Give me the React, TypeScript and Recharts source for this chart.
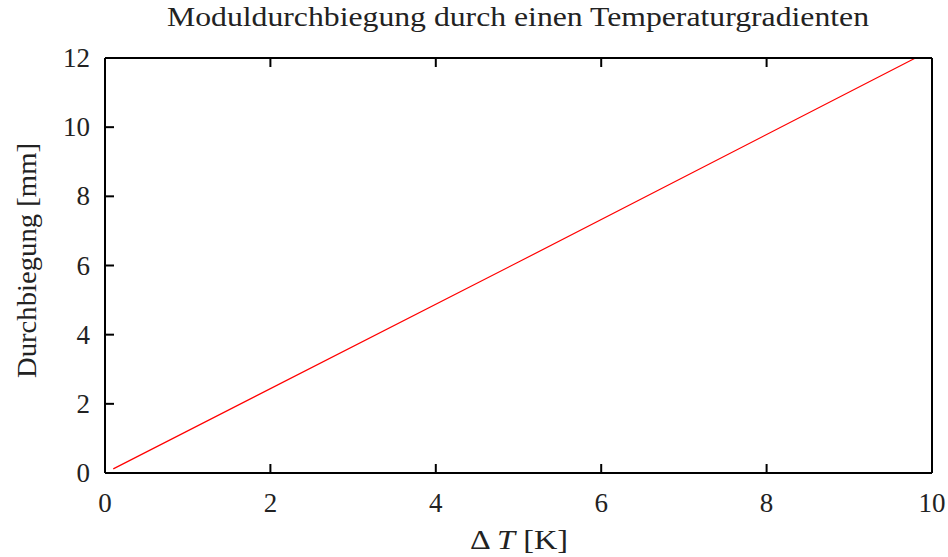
import React from "react";
import { LineChart, Line, XAxis, YAxis } from "recharts";

const deltaT = [0.1, 5, 9.8];
const deflection = [0.12, 6.1, 12.0];
const xTicks = [0, 2, 4, 6, 8, 10];
const yTicks = [0, 2, 4, 6, 8, 10, 12];
const title = "Moduldurchbiegung durch einen Temperaturgradienten";
const yLabel = "Durchbiegung [mm]";

const data = deltaT.map((x, i) => ({ x, y: deflection[i] }));

const FONT = "'Liberation Serif', serif";
const FS = 27;
const TL = 9;
const INK = "#222";

const BottomTick = (p: any) => (
  <g>
    <line x1={p.x} y1={p.y} x2={p.x} y2={p.y - TL} stroke="#000" strokeWidth={2} />
    <text x={p.x} y={p.y + 39} textAnchor="middle" fontFamily={FONT} fontSize={FS} fill={INK}>
      {p.payload.value}
    </text>
  </g>
);
const TopTick = (p: any) => (
  <line x1={p.x} y1={p.y} x2={p.x} y2={p.y + TL} stroke="#000" strokeWidth={2} />
);
const LeftTick = (p: any) => (
  <g>
    <line x1={p.x} y1={p.y} x2={p.x + TL} y2={p.y} stroke="#000" strokeWidth={2} />
    <text x={p.x - 15} y={p.y + 9} textAnchor="end" fontFamily={FONT} fontSize={FS} fill={INK}>
      {p.payload.value}
    </text>
  </g>
);
const RightTick = (p: any) => (
  <line x1={p.x} y1={p.y} x2={p.x - TL} y2={p.y} stroke="#000" strokeWidth={2} />
);

export default function App() {
  return (
    <div style={{ position: "absolute", left: 0, top: 0, width: 948, height: 557, background: "#fff" }}>
      <LineChart
        width={948}
        height={557}
        data={data}
        margin={{ top: 57, right: 15, bottom: 0, left: 0 }}
      >
        <XAxis
          xAxisId="bottom"
          dataKey="x"
          type="number"
          domain={[0, 10]}
          ticks={xTicks}
          interval={0}
          orientation="bottom"
          height={84}
          tickSize={0}
          tickMargin={0}
          tickLine={false}
          axisLine={{ stroke: "#000", strokeWidth: 2 }}
          tick={<BottomTick />}
        />
        <XAxis
          xAxisId="top"
          dataKey="x"
          type="number"
          domain={[0, 10]}
          ticks={xTicks}
          interval={0}
          orientation="top"
          height={1}
          tickSize={0}
          tickMargin={0}
          tickLine={false}
          axisLine={{ stroke: "#000", strokeWidth: 2 }}
          tick={<TopTick />}
        />
        <YAxis
          yAxisId="left"
          type="number"
          domain={[0, 12]}
          ticks={yTicks}
          interval={0}
          orientation="left"
          width={105}
          tickSize={0}
          tickMargin={0}
          tickLine={false}
          axisLine={{ stroke: "#000", strokeWidth: 2 }}
          tick={<LeftTick />}
        />
        <YAxis
          yAxisId="right"
          type="number"
          domain={[0, 12]}
          ticks={yTicks}
          interval={0}
          orientation="right"
          width={1}
          tickSize={0}
          tickMargin={0}
          tickLine={false}
          axisLine={{ stroke: "#000", strokeWidth: 2 }}
          tick={<RightTick />}
        />
        <Line
          xAxisId="bottom"
          yAxisId="left"
          dataKey="y"
          stroke="#ff0000"
          strokeWidth={1.2}
          dot={false}
          isAnimationActive={false}
        />
      </LineChart>
      <svg
        width={948}
        height={557}
        style={{ position: "absolute", left: 0, top: 0, pointerEvents: "none" }}
      >
        <text
          x={518}
          y={26}
          textAnchor="middle"
          fontFamily={FONT}
          fontSize={FS}
          fill={INK}
          textLength={702}
          lengthAdjust="spacingAndGlyphs"
        >
          {title}
        </text>
        <text
          x={519}
          y={549}
          textAnchor="middle"
          fontFamily={FONT}
          fontSize={FS}
          fill={INK}
          textLength={98}
          lengthAdjust="spacingAndGlyphs"
        >
          <tspan>Δ </tspan>
          <tspan fontStyle="italic">T</tspan>
          <tspan> [K]</tspan>
        </text>
        <text
          x={0}
          y={0}
          transform="translate(36,260.5) rotate(-90)"
          textAnchor="middle"
          fontFamily={FONT}
          fontSize={FS}
          fill={INK}
          textLength={235}
          lengthAdjust="spacingAndGlyphs"
        >
          {yLabel}
        </text>
      </svg>
    </div>
  );
}
